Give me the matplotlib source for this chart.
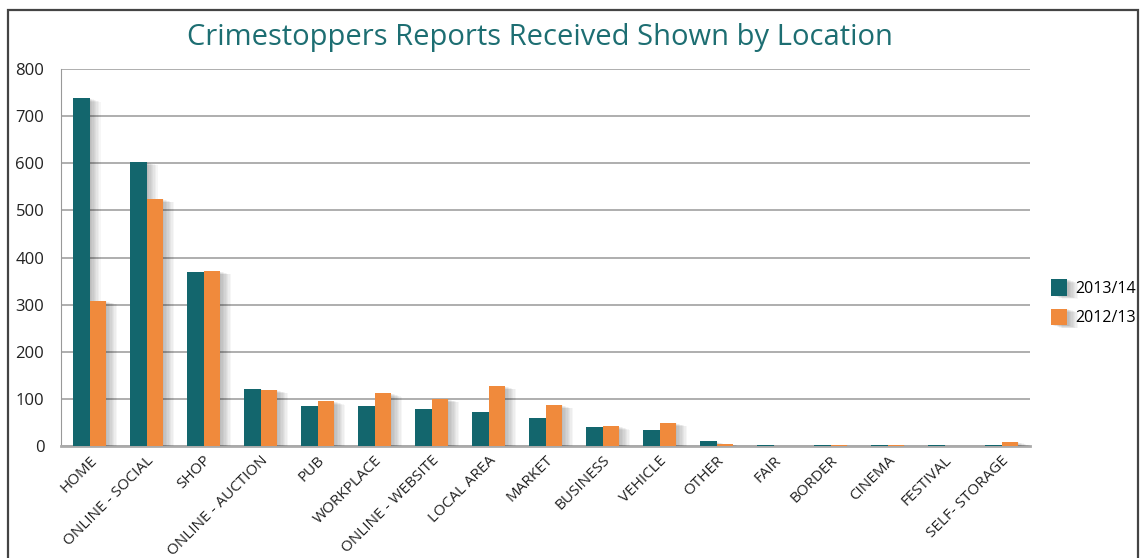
import matplotlib
matplotlib.use("Agg")
import matplotlib.pyplot as plt
import matplotlib.patheffects as pe
from matplotlib.patches import Rectangle
import numpy as np

locations = ["HOME", "ONLINE - SOCIAL", "SHOP", "ONLINE - AUCTION", "PUB", "WORKPLACE",
             "ONLINE - WEBSITE", "LOCAL AREA", "MARKET", "BUSINESS", "VEHICLE", "OTHER",
             "FAIR", "BORDER", "CINEMA", "FESTIVAL", "SELF- STORAGE"]
reports_2013_14 = [738, 603, 369, 121, 85, 85, 79, 72, 59, 40, 34, 10, 2, 2, 2, 2, 2]
reports_2012_13 = [308, 524, 371, 119, 95, 112, 100, 127, 87, 42, 49, 4, 0, 2, 2, 0, 9]
y_ticks = [0, 100, 200, 300, 400, 500, 600, 700, 800]

teal = "#13666d"
orange = "#f08a3c"

plt.rcParams["font.family"] = ["Open Sans", "DejaVu Sans"]

fig = plt.figure(figsize=(11.4, 5.58), dpi=100)
ax = fig.add_axes([61 / 1140, 1 - 446 / 558, (1030 - 61) / 1140, (446 - 69) / 558])

# outer frame, cut off at the bottom like the original
fig.patches.append(Rectangle((8 / 1140, -0.1), (1138 - 8) / 1140, 1.1 - 10 / 558,
                             transform=fig.transFigure, fill=False,
                             edgecolor="#444444", linewidth=1.6))

x = np.arange(len(locations))
w = 0.29

# soft shadow: a few translucent offset layers
shadow = [pe.SimplePatchShadow(offset=(o, -o * 0.3), shadow_rgbFace="black", alpha=0.035)
          for o in (1, 2, 3, 4, 5, 6, 7, 8)] + [pe.Normal()]

b1 = ax.bar(x - w / 2, reports_2013_14, w, color=teal, label="2013/14", zorder=3)
b2 = ax.bar(x + w / 2, reports_2012_13, w, color=orange, label="2012/13", zorder=3)
for b in list(b1) + list(b2):
    b.set_path_effects(shadow)

ax.set_xlim(-0.5, len(locations) - 0.5)
ax.set_ylim(0, 800)
ax.set_yticks(y_ticks)
ax.yaxis.grid(True, color="#999999", linewidth=1.1, zorder=0)
ax.set_axisbelow(True)
ax.tick_params(axis="both", length=0, labelsize=12, colors="#222222")
ax.tick_params(axis="y", pad=12)
ax.tick_params(axis="x", pad=5)
ax.set_xticks(x)
ax.set_xticklabels(locations, rotation=45, ha="right", rotation_mode="anchor",
                   fontsize=11)
for s in ("top", "right"):
    ax.spines[s].set_visible(False)
ax.spines["left"].set_color("#999999")
ax.spines["bottom"].set_color("#aaaaaa")
ax.spines["bottom"].set_linewidth(2)

fig.text(0.474, 1 - 38 / 558, "Crimestoppers Reports Received Shown by Location",
         ha="center", va="center", fontsize=21, color="#1d6e72")

ax.legend(loc="center left", bbox_to_anchor=(1.007, 0.38), frameon=False,
          fontsize=11.5, handlelength=1.0, handleheight=1.2, labelspacing=0.75,
          handletextpad=0.5)

fig.savefig("out.png", dpi=100)
